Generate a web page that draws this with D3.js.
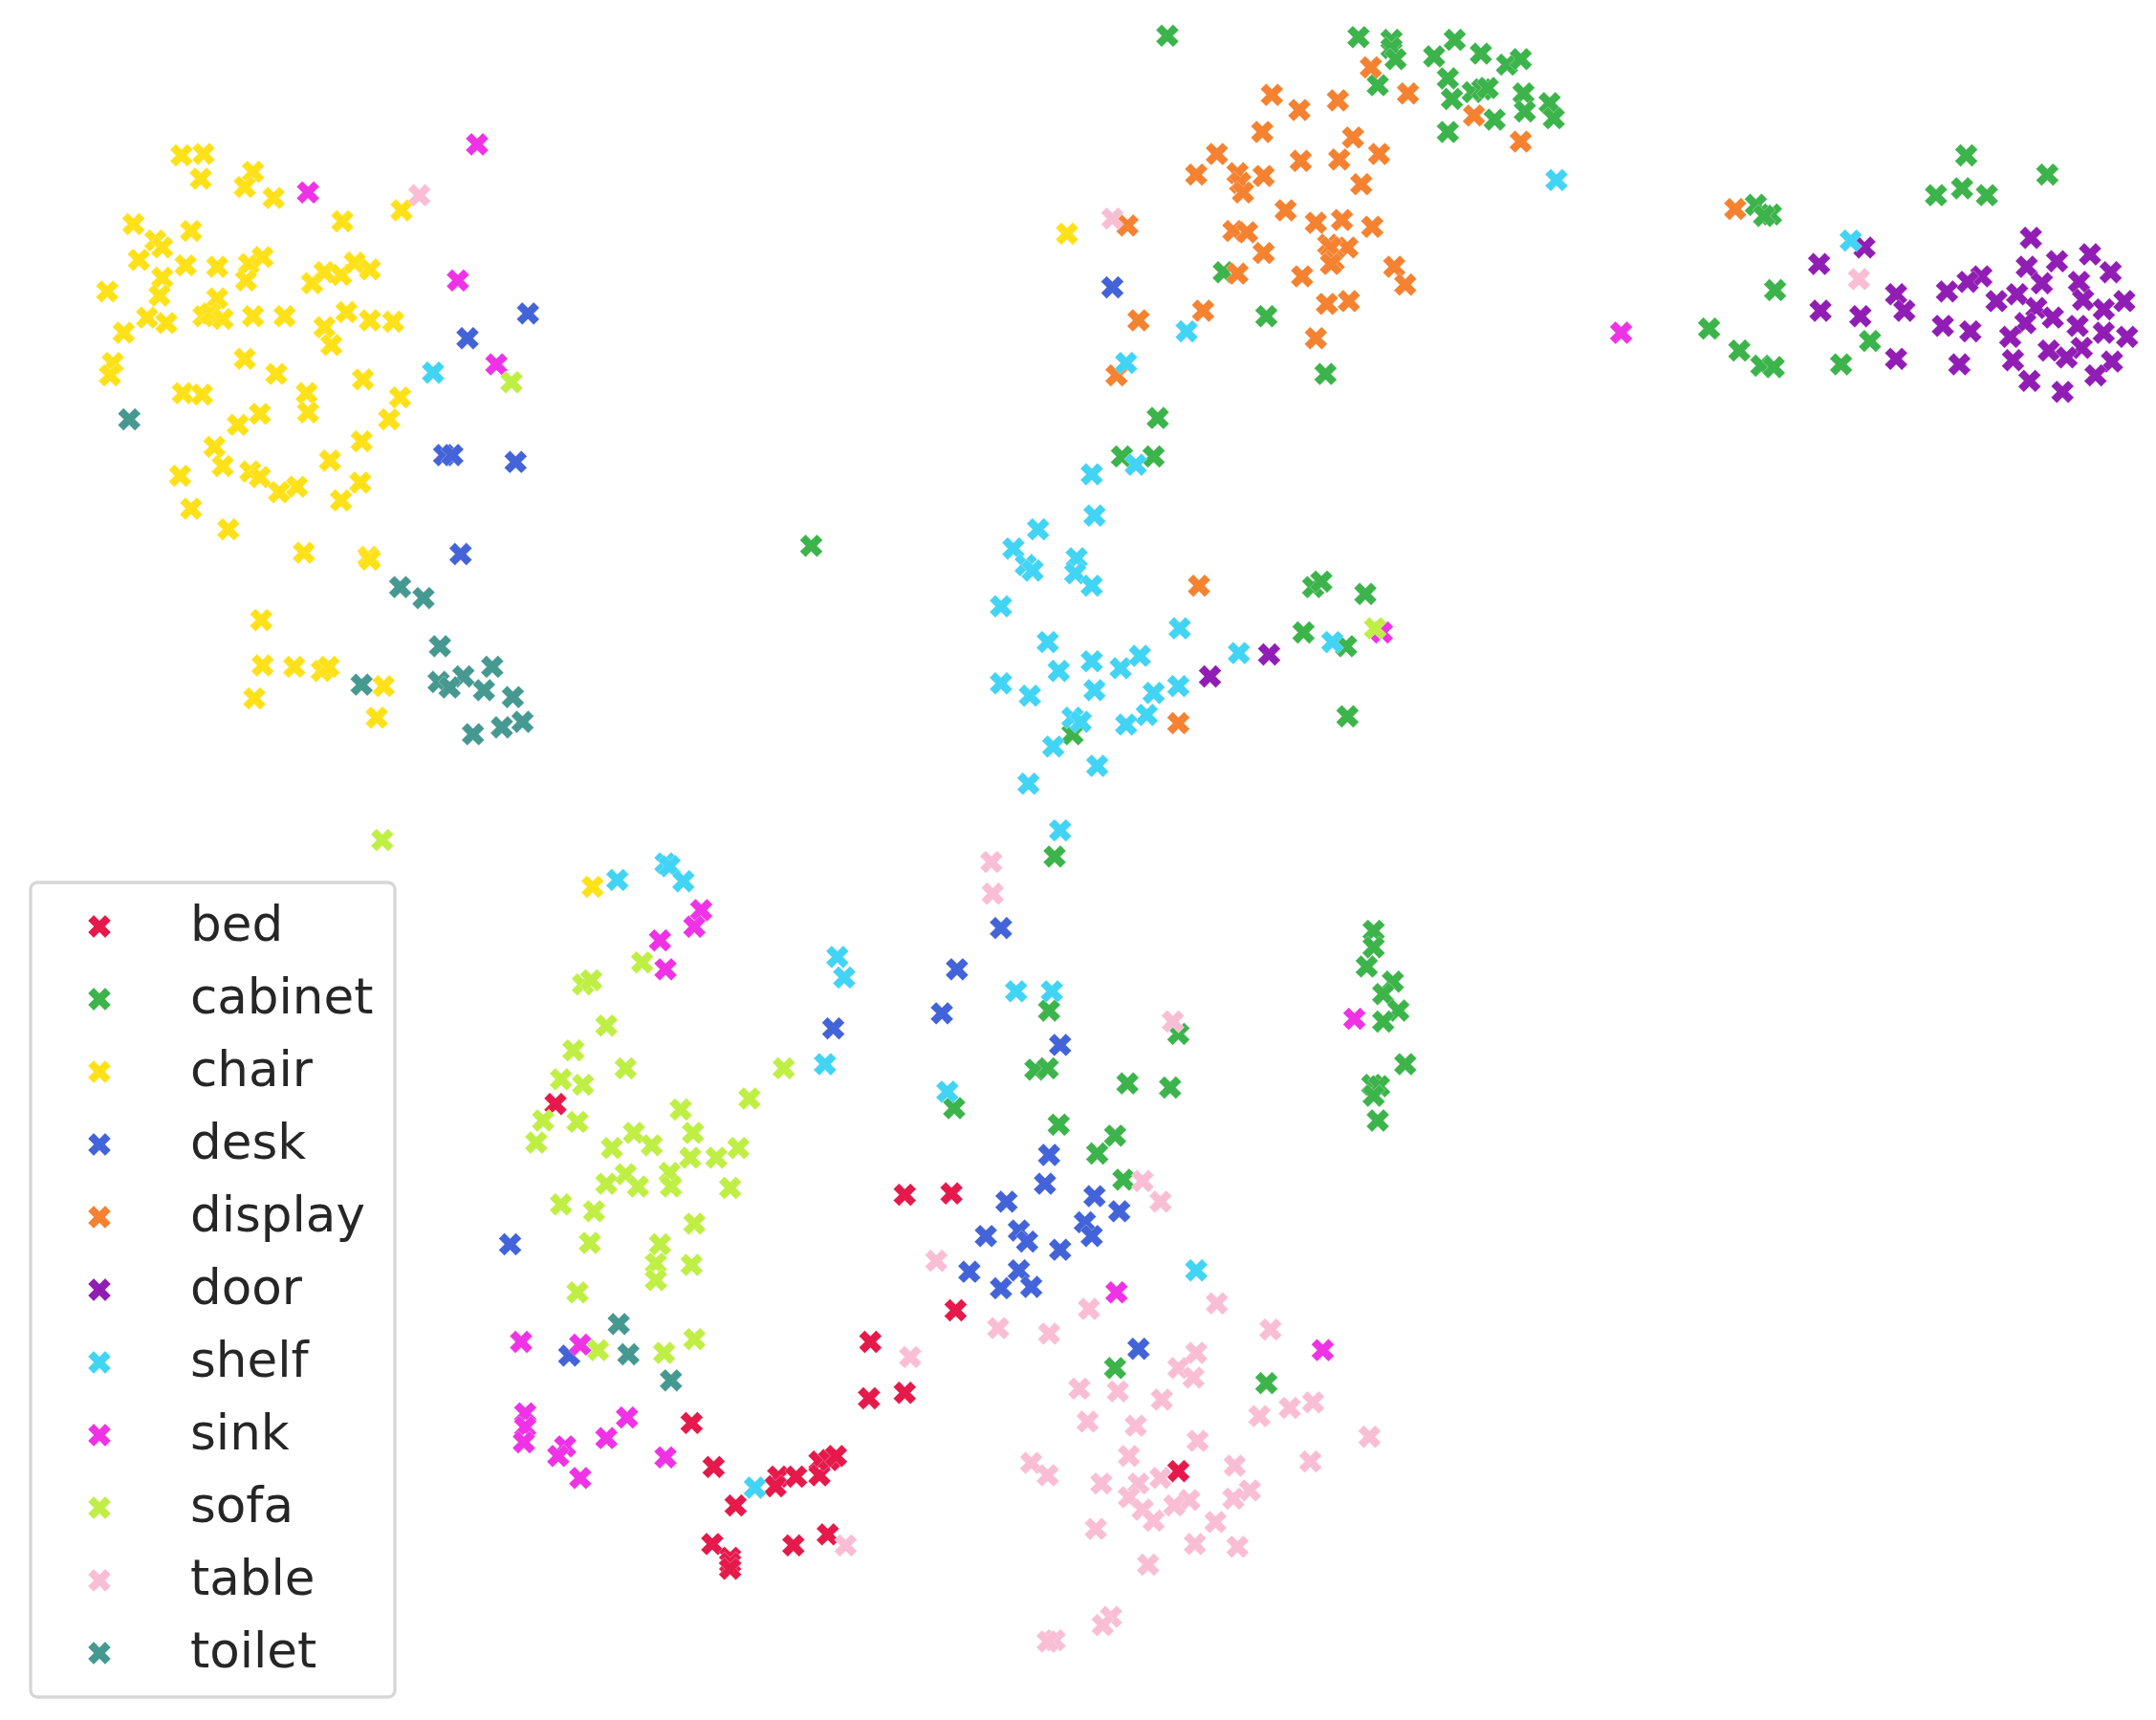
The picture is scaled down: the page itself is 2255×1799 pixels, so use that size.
<!DOCTYPE html>
<html>
<head>
<meta charset="utf-8">
<title>t-SNE scatter</title>
<script src="https://cdn.jsdelivr.net/npm/d3@7"></script>
<style>
  html, body { margin: 0; padding: 0; background: #fff; }
  svg { display: block; }
</style>
</head>
<body>
<div id="chart"></div>
<script>
// Values (embedding has no axes, so units are just reference coords)
var categories = ['bed', 'cabinet', 'chair', 'desk', 'display', 'door', 'shelf', 'sink', 'sofa', 'table', 'toilet']

var bed = [[404,803],[658,869],[692,868],[695,953],[633,976],[632,1017],[658,1013],[503,1035],[519,1067],[535,1095],[566,1074],[564,1081],[579,1074],[596,1063],[596,1073],[603,1062],[608,1059],[518,1123],[531,1133],[531,1137],[531,1141],[577,1124],[602,1116],[857,1070]]

var cabinet = [[849,26],[988,27],[1012,29],[1012,35],[1015,43],[1058,29],[1043,41],[1077,39],[1096,47],[1106,43],[1002,62],[1053,57],[1056,72],[1071,67],[1078,65],[1082,64],[1108,68],[1109,81],[1127,75],[1130,86],[1087,87],[1053,96],[1430,113],[1489,127],[1427,137],[1408,142],[1445,142],[1277,149],[1288,156],[1283,157],[1291,211],[1243,239],[1265,255],[1281,266],[1290,267],[1339,265],[1360,248],[890,198],[921,230],[964,272],[842,304],[816,332],[839,332],[590,397],[955,427],[961,423],[993,432],[948,460],[979,470],[980,521],[780,534],[767,623],[999,677],[999,689],[994,703],[1013,714],[1006,723],[1017,735],[1006,743],[1022,774],[998,789],[1003,790],[999,797],[1002,815],[763,735],[753,778],[762,777],[820,788],[851,791],[694,806],[857,752],[770,818],[811,826],[798,839],[817,858],[921,1006],[811,995]]

var chair = [[132,113],[148,112],[146,130],[184,125],[178,136],[199,144],[249,161],[292,153],[97,163],[139,168],[113,175],[118,180],[101,189],[135,193],[158,194],[181,192],[191,187],[179,204],[118,202],[116,215],[78,212],[158,217],[148,230],[153,228],[162,232],[184,230],[207,230],[121,235],[107,231],[227,206],[236,198],[248,200],[258,191],[269,196],[252,227],[236,238],[241,251],[269,233],[286,234],[90,242],[82,264],[80,273],[178,261],[201,272],[264,276],[133,286],[147,287],[223,286],[224,300],[291,289],[189,301],[173,309],[283,305],[263,321],[156,325],[162,339],[240,335],[131,346],[182,343],[189,347],[203,358],[216,354],[262,351],[248,364],[139,370],[166,385],[221,402],[268,405],[269,407],[190,451],[191,484],[214,485],[234,488],[239,485],[185,508],[279,499],[274,522],[431,645],[776,170]]

var desk = [[384,228],[340,246],[323,331],[329,331],[375,336],[335,403],[809,209],[728,675],[696,705],[685,737],[606,748],[771,760],[763,840],[760,861],[732,874],[796,870],[814,881],[789,889],[794,899],[741,895],[747,903],[717,899],[771,909],[705,925],[741,924],[728,937],[750,936],[371,905],[414,986],[828,981]]

var display = [[997,49],[1024,68],[925,69],[973,73],[945,80],[1072,84],[918,96],[984,100],[1106,103],[885,112],[1003,112],[946,117],[974,116],[870,127],[900,126],[919,128],[902,133],[990,134],[904,140],[1262,152],[935,153],[820,164],[957,162],[976,160],[897,168],[907,169],[998,165],[966,178],[980,180],[919,184],[968,180],[970,190],[968,192],[900,199],[947,201],[1014,194],[1022,207],[965,221],[981,219],[875,226],[828,233],[957,246],[812,273],[872,426],[857,526]]

var door = [[1477,173],[1356,180],[1323,192],[1474,194],[1496,190],[1520,185],[1535,198],[1441,201],[1431,205],[1416,212],[1379,214],[1385,226],[1485,206],[1512,205],[1467,214],[1452,219],[1515,218],[1545,219],[1481,224],[1530,225],[1493,231],[1324,226],[1353,230],[1413,237],[1433,241],[1473,235],[1511,237],[1462,245],[1530,242],[1547,245],[1514,253],[1490,255],[1503,260],[1464,262],[1536,263],[1379,261],[1425,265],[1476,277],[1524,273],[1500,285],[880,492],[923,476]]

var shelf = [[1132,131],[1346,175],[863,241],[819,264],[315,271],[794,345],[826,338],[796,375],[755,385],[737,399],[746,411],[751,415],[783,406],[782,417],[794,426],[728,441],[762,467],[858,457],[901,475],[969,467],[770,488],[794,481],[815,486],[829,477],[728,497],[749,506],[796,502],[839,504],[857,499],[834,520],[819,527],[780,522],[786,525],[766,543],[748,570],[798,557],[771,604],[449,640],[484,628],[487,630],[497,641],[609,696],[614,711],[739,721],[765,721],[600,774],[689,794],[870,924],[549,1082]]

var sink = [[347,105],[224,140],[333,204],[361,265],[1179,242],[1005,460],[510,662],[505,674],[480,684],[484,705],[985,741],[812,940],[962,982],[379,976],[422,978],[382,1028],[382,1038],[381,1049],[411,1052],[406,1059],[441,1046],[456,1031],[484,1060],[422,1075]]

var sofa = [[372,278],[278,611],[467,700],[424,716],[430,713],[441,746],[417,764],[455,777],[570,777],[408,785],[424,789],[545,799],[495,807],[395,815],[420,816],[390,831],[461,824],[504,824],[474,833],[537,835],[521,842],[502,842],[445,835],[455,854],[441,861],[464,863],[487,853],[488,863],[531,864],[408,876],[432,881],[505,890],[429,904],[480,905],[477,919],[477,931],[503,920],[420,940],[505,974],[483,984],[435,982],[1000,457]]

var table = [[305,142],[809,159],[1352,203],[721,627],[722,650],[853,743],[831,859],[844,874],[681,917],[885,948],[792,952],[726,966],[763,970],[924,967],[870,984],[857,995],[868,1002],[662,987],[785,1010],[813,1012],[845,1018],[955,1020],[938,1024],[916,1030],[791,1034],[826,1037],[871,1048],[996,1045],[821,1059],[750,1064],[762,1073],[953,1063],[898,1066],[844,1075],[801,1079],[828,1079],[821,1089],[831,1098],[909,1084],[897,1090],[865,1091],[854,1095],[839,1106],[797,1112],[884,1107],[615,1124],[869,1123],[900,1125],[835,1138],[808,1176],[802,1182],[767,1193],[762,1194]]

var toilet = [[94,305],[291,427],[308,435],[320,470],[358,485],[337,492],[319,496],[327,500],[263,498],[352,502],[373,507],[380,525],[365,529],[344,534],[450,963],[457,985],[488,1004]]

var palette = ['#e6194b', '#3cb44b', '#ffe119', '#4363d8', '#f58231', '#911eb4', '#42d4f4', '#f032e6', '#bfef45', '#fabed4', '#469990']

var series = [bed, cabinet, chair, desk, display, door, shelf, sink, sofa, table, toilet]

var width = 2255
var height = 1799

var svg = d3.select('#chart')
  .append('svg')
  .attr('width', width)
  .attr('height', height)

// Scales

var xPositionScale = d3.scaleLinear().domain([0, 1568]).range([0, width])
var yPositionScale = d3.scaleLinear().domain([0, 1251]).range([0, height])
var colorScale = d3.scaleOrdinal().domain(categories).range(palette)

// Filled x marker: a cross turned 45 degrees
var marker = d3.symbol().type(d3.symbolCross).size(355)

// Points, one group per category so later ones sit on top

categories.forEach(function(name, i) {
  svg.append('g')
    .attr('class', 'points ' + name)
    .selectAll('path')
    .data(series[i])
    .enter()
    .append('path')
    .attr('d', marker)
    .attr('transform', d => 'translate(' + xPositionScale(d[0]) + ',' + yPositionScale(d[1]) + ') rotate(45)')
    .attr('fill', colorScale(name))
    .attr('stroke', '#fff')
    .attr('stroke-width', 0.3)
})

// Legend

var legend = svg.append('g').attr('class', 'legend')

legend.append('rect')
  .attr('x', 32)
  .attr('y', 923)
  .attr('width', 381)
  .attr('height', 852)
  .attr('rx', 7)
  .attr('fill', '#fff')
  .attr('stroke', '#d6d6d6')
  .attr('stroke-width', 3.3)

var rowScale = d3.scalePoint().domain(categories).range([969, 1729])

var rows = legend.selectAll('.row')
  .data(categories)
  .enter()
  .append('g')
  .attr('class', 'row')
  .attr('transform', d => 'translate(0,' + rowScale(d) + ')')

rows.append('path')
  .attr('d', marker)
  .attr('transform', 'translate(104,0) rotate(45)')
  .attr('fill', d => colorScale(d))
  .attr('stroke', '#fff')
  .attr('stroke-width', 0.3)

rows.append('text')
  .attr('x', 199)
  .attr('y', 15)
  .attr('font-family', 'DejaVu Sans')
  .attr('font-size', 51.5)
  .attr('fill', '#262626')
  .text(d => d)
</script>
</body>
</html>
